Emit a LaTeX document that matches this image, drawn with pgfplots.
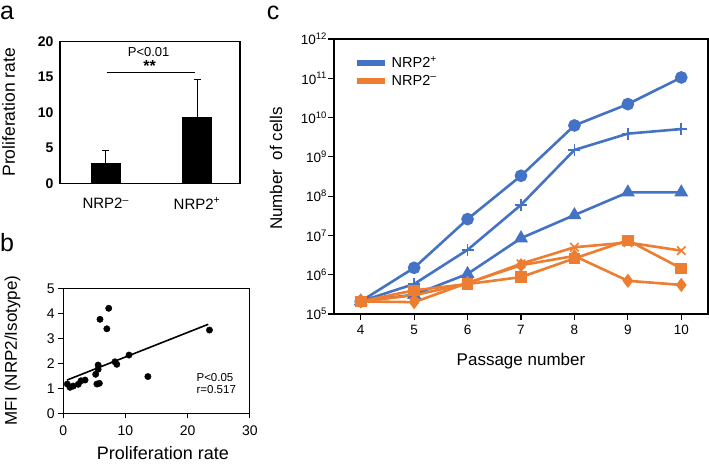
\documentclass[border=0pt]{standalone}
\usepackage{fontspec}
\setmainfont{Liberation Sans}
\usepackage{pgfplots}
\pgfplotsset{compat=1.18}
\definecolor{cblue}{HTML}{4472C4}
\definecolor{corange}{HTML}{ED7D31}
\newcommand{\fsz}[1]{\fontsize{#1}{#1}\selectfont}

\begin{document}
\begin{tikzpicture}
\path[use as bounding box] (0pt,0pt) rectangle (709pt,-469pt);
\pgfplotsset{/pgf/number format/assume math mode=true}

% ---------------- panel a ----------------
\begin{axis}[at={(60pt,-183.3pt)}, anchor=south west, scale only axis,
  width=180pt, height=142pt,
  xmin=-0.5, xmax=1.47, ymin=0, ymax=20,
  ytick={0,5,10,15,20}, xtick={0,1},
  xticklabels={NRP2\textsuperscript{–},NRP2\textsuperscript{+}},
  major tick length=0pt, axis line style={line width=1.1pt},
  yticklabel style={font=\fsz{14}\bfseries, xshift=-3pt},
  xticklabel style={font=\fsz{15}, yshift=-11pt},
  ylabel={Proliferation rate},
  ylabel style={font=\fsz{17.5}, at={(axis description cs:-0.285,0.5)}, anchor=center},
]
\addplot[ybar, fill=black, draw=black, bar width=0.32,
  error bars/.cd, y dir=plus, y explicit,
  error bar style={line width=1.1pt, black},
  error mark options={rotate=90, mark size=3.5pt, line width=1.1pt, black}]
  coordinates {(0,2.8) +- (0,1.8) (1,9.3) +- (0,5.3)};
\addplot[black, line width=0.8pt] coordinates {(0.01,15.6) (0.98,15.6)};
\node[font=\fsz{13}, anchor=base, inner sep=0pt] at (axis cs:0.47,17.83) {P<0.01};
\node[font=\fsz{16}\bfseries, anchor=base, inner sep=0pt] at (axis cs:0.48,15.8) {**};
\end{axis}

% ---------------- panel b ----------------
\begin{axis}[at={(63.3pt,-413.3pt)}, anchor=south west, scale only axis,
  width=186.6pt, height=125pt,
  xmin=0, xmax=30, ymin=0, ymax=5,
  xtick={0,10,20,30}, ytick={0,1,2,3,4,5},
  tick align=outside, major tick length=5pt,
  xtick pos=bottom, ytick pos=left,
  axis line style={line width=1.1pt}, tick style={line width=1.1pt, black},
  ticklabel style={font=\fsz{14}},
  xticklabel style={yshift=-4pt},
  xlabel={Proliferation rate}, ylabel={MFI (NRP2/Isotype)},
  xlabel style={font=\fsz{18}, at={(axis description cs:0.534,-0.315)}, anchor=center},
  ylabel style={font=\fsz{17}, at={(axis description cs:-0.272,0.5)}, anchor=center},
]
\addplot[only marks, mark=*, mark size=3.2pt, black] coordinates {
 (0.64,1.17) (1.08,1.04) (1.6,1.09) (2.4,1.16) (2.85,1.30) (3.5,1.33)
 (5.2,1.56) (5.4,1.17) (5.8,1.20) (5.6,1.76) (5.6,1.93) (5.9,3.76)
 (7.0,3.38) (7.3,4.2) (8.3,2.06) (8.6,1.96) (10.56,2.33) (13.6,1.47) (23.5,3.33)};
\addplot[black, line width=1.6pt] coordinates {(0.6,1.33) (23.3,3.56)};
\node[font=\fsz{11.5}, anchor=west, inner sep=0pt] at (axis cs:21.4,1.45) {P<0.05};
\node[font=\fsz{11.5}, anchor=west, inner sep=0pt] at (axis cs:21.4,0.95) {r=0.517};
\end{axis}

% ---------------- panel c ----------------
\begin{axis}[at={(334pt,-314pt)}, anchor=south west, scale only axis,
  width=374pt, height=275pt,
  ymode=log, ymin=1e5, ymax=1e12, xmin=3.5, xmax=10.5,
  xtick={4,5,6,7,8,9,10},
  ytick={1e5,1e6,1e7,1e8,1e9,1e10,1e11,1e12},
  yticklabels={10\textsuperscript{5},10\textsuperscript{6},10\textsuperscript{7},10\textsuperscript{8},10\textsuperscript{9},10\textsuperscript{10},10\textsuperscript{11},10\textsuperscript{12}},
  yminorticks=false,
  tick align=outside, major tick length=6pt,
  xtick pos=bottom, ytick pos=left,
  axis line style={line width=1.1pt}, tick style={line width=1.1pt, black},
  xticklabel style={font=\fsz{13.5}, yshift=-2pt},
  yticklabel style={font=\fsz{13.5}, inner sep=1pt},
  xlabel={Passage number}, ylabel={Number\ \ of cells},
  xlabel style={font=\fsz{17}, at={(axis description cs:0.5,-0.171)}, anchor=center},
  ylabel style={font=\fsz{17}, at={(axis description cs:-0.155,0.529)}, anchor=center},
  legend style={at={(axis description cs:0.052,0.945)}, anchor=north west,
    draw=none, fill=none, font=\fsz{14.5}, row sep=2pt, column sep=2pt,
    inner sep=0pt},
  legend cell align=left,
  legend image code/.code={\draw[line width=6pt] (0pt,0pt) -- (28pt,0pt);},
]
\addlegendimage{cblue}
\addlegendentry{NRP2\textsuperscript{+}}
\addlegendimage{corange}
\addlegendentry{NRP2\textsuperscript{–}}
\addplot[forget plot, cblue, line width=2.6pt, mark=*, mark size=5pt] coordinates {
 (4,2.1e5) (5,1.5e6) (6,2.6e7) (7,3.3e8) (8,6.3e9) (9,2.2e10) (10,1.05e11)};
\addplot[forget plot, cblue, line width=2.6pt, mark=+, mark size=6pt, mark options={line width=1.6pt}] coordinates {
 (4,2.1e5) (5,5.8e5) (6,4.3e6) (7,6e7) (8,1.5e9) (9,3.9e9) (10,5.1e9)};
\addplot[forget plot, cblue, line width=2.6pt, mark=triangle*, mark size=5.5pt] coordinates {
 (4,2.1e5) (5,3.1e5) (6,1.05e6) (7,8.5e6) (8,3.3e7) (9,1.25e8) (10,1.25e8)};
\addplot[forget plot, corange, line width=2.6pt, mark=x, mark size=6pt, mark options={line width=1.6pt}] coordinates {
 (4,2.1e5) (5,3e5) (6,6e5) (7,1.9e6) (8,5e6) (9,6.6e6) (10,4.1e6)};
\addplot[forget plot, corange, line width=2.6pt, mark=diamond*, mark size=5pt] coordinates {
 (4,2.1e5) (5,2e5) (6,6.2e5) (7,1.75e6) (8,3e6) (9,7e5) (10,5.5e5)};
\addplot[forget plot, corange, line width=2.6pt, mark=square*, mark size=4.5pt] coordinates {
 (4,2.1e5) (5,4e5) (6,5.8e5) (7,8.7e5) (8,2.6e6) (9,7.5e6) (10,1.45e6)};
\end{axis}

% panel letters
\node[anchor=base west, font=\fsz{25}, inner sep=0pt] at (0pt,-19pt) {a};
\node[anchor=base west, font=\fsz{25}, inner sep=0pt] at (0pt,-251pt) {b};
\node[anchor=base west, font=\fsz{25}, inner sep=0pt] at (266.7pt,-19.5pt) {c};
\end{tikzpicture}
\end{document}
